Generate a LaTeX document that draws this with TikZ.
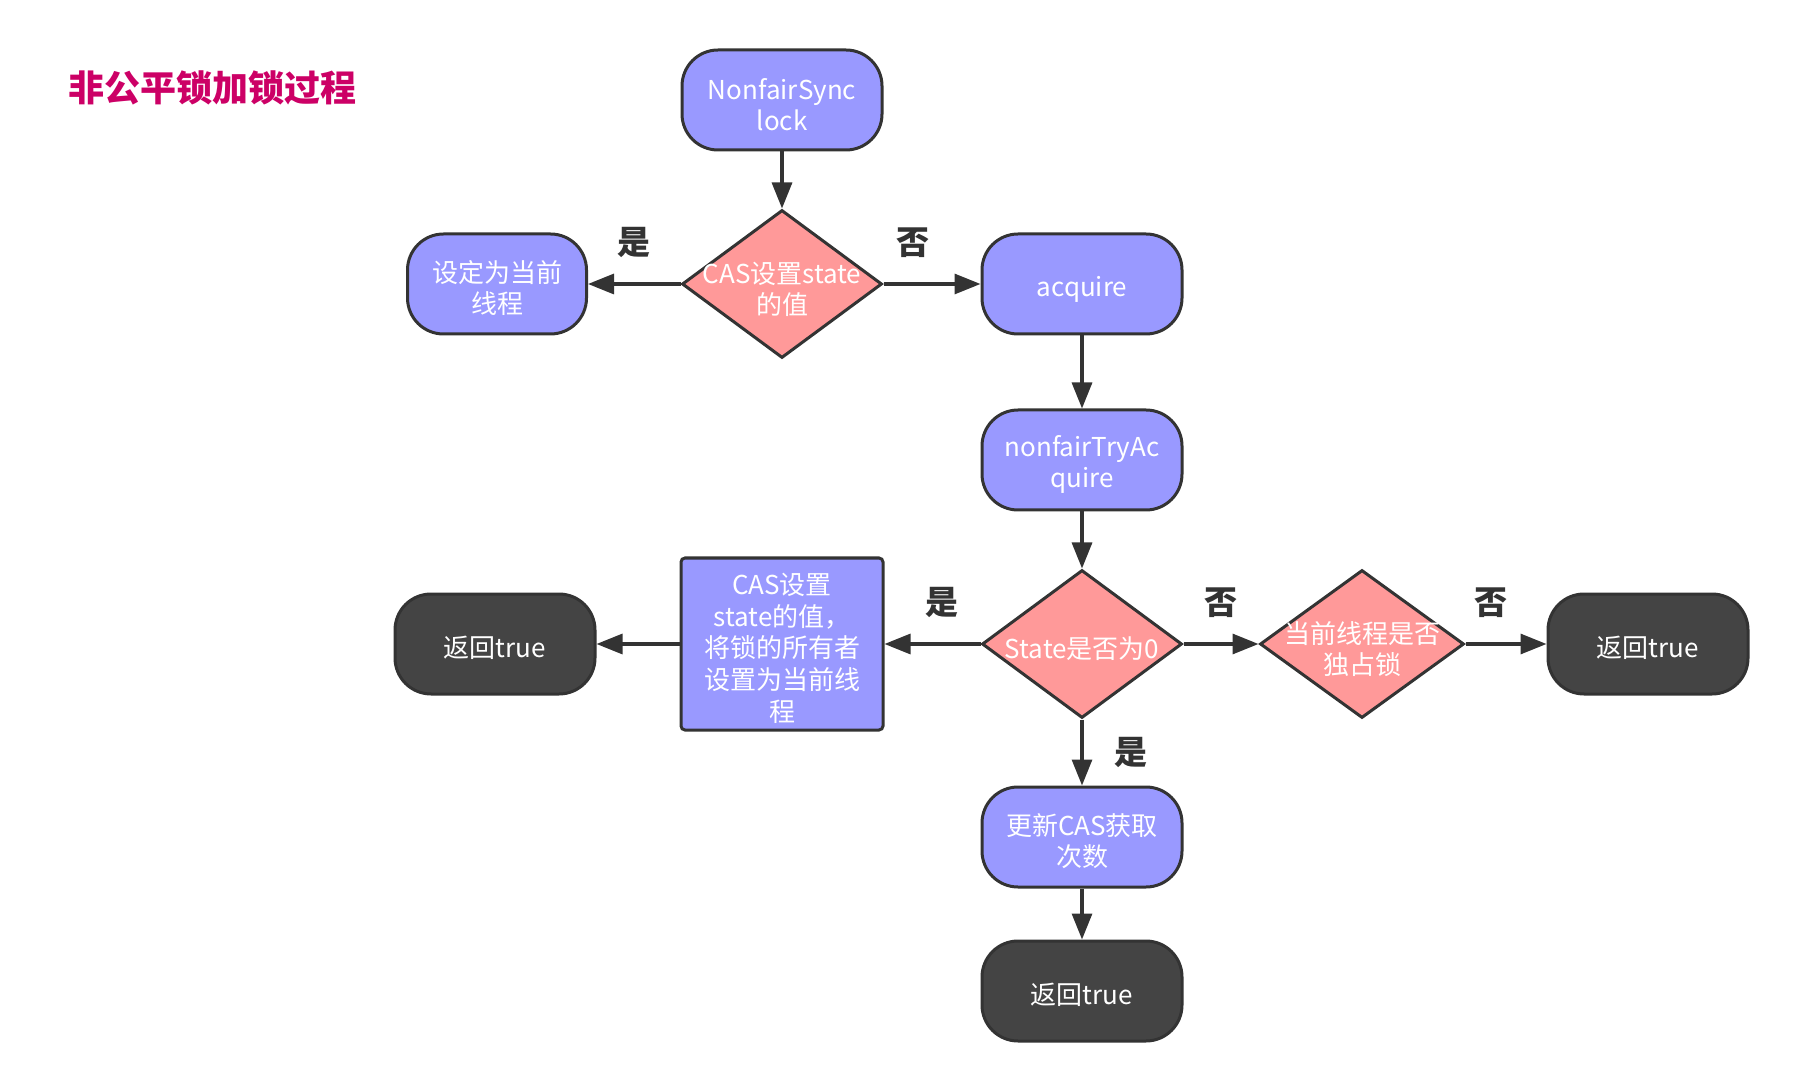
\documentclass[tikz,border=0pt]{standalone}
\usepackage{fontspec}
\setmainfont{Noto Sans CJK SC}
\usepackage{xcolor}
\usepackage{tikz}
\usetikzlibrary{arrows.meta,positioning,shapes.geometric}

\definecolor{procblue}{HTML}{9999FF}
\definecolor{condpink}{HTML}{FF9999}
\definecolor{enddark}{HTML}{444444}
\definecolor{edgegray}{HTML}{333333}
\definecolor{titlered}{HTML}{CC0066}

% taller first line, pushes node text a little down
\newcommand{\toprow}{\rule{0pt}{15pt}}
\newcommand{\toprowd}{\rule{0pt}{16pt}}

\begin{document}
\begin{tikzpicture}[
				x=0.5pt, y=-0.5pt,
				font=\fontsize{13pt}{15.8pt}\selectfont,
				>={Triangle[length=13pt,width=10pt]},
				process/.style={
					rectangle, rounded corners=18pt,
					draw=edgegray, line width=1.5pt, fill=procblue,
					text=white, align=center,
					minimum width=100pt, minimum height=50pt, inner sep=2pt
				},
				terminal/.style={process, fill=enddark},
				block/.style={
					rectangle, rounded corners=2pt,
					draw=edgegray, line width=1.5pt, fill=procblue,
					text=white, align=center,
					minimum width=101pt, minimum height=86pt, inner sep=2pt
				},
				decision/.style={
					diamond, draw=edgegray, line width=1.5pt, fill=condpink,
					minimum width=100pt, minimum height=74pt, inner sep=0pt
				},
				dtext/.style={text=white, align=center, inner sep=0pt},
				arr/.style={->, line width=1.6pt, edgegray},
				answer/.style={font=\fontsize{16.5pt}{18pt}\selectfont\bfseries, text=edgegray}
				]
				
				\useasboundingbox (0,0) rectangle (1798,1090);
				
				%% ─── TITLE ───────────────────────────────────────────────
				\node[font=\fontsize{18pt}{20pt}\selectfont\bfseries, text=titlered] (title) at (212,88) {非公平锁加锁过程};
				
				%% ─── LOCK ENTRY ──────────────────────────────────────────
				\node[process] (lock) at (782,100) {\toprow NonfairSync\\lock};
				\node[decision] (cas) at (782,284) {};
				\node[dtext] (castext) at (cas) {\toprowd CAS设置state\\的值};
				\node[process, minimum width=89.5pt] (setcur) at (497,284) {\toprow 设定为当前\\线程};
				\node[process] (acq) at (1082,284) {\toprow acquire};
				
				\draw[arr] (lock) -- (cas);
				\draw[arr] (cas) -- node[answer, above=9pt]{是} (setcur);
				\draw[arr] (cas) -- node[answer, above=9pt, pos=0.3]{否} (acq);
				
				%% ─── TRY ACQUIRE ─────────────────────────────────────────
				\node[process] (tryacq) at (1082,460) {\toprow nonfairTryAc\\quire};
				\node[decision] (state) at (1082,644) {};
				\node[dtext] (statetext) at (state) {\toprowd State是否为0};
				\draw[arr] (acq) -- (tryacq);
				\draw[arr] (tryacq) -- (state);
				
				\node[block] (casset) at (782,644) {\toprow CAS设置\\state的值，\\将锁的所有者\\设置为当前线\\程};
				\node[terminal] (retleft) at (495,644) {\toprow 返回true};
				\draw[arr] (state) -- node[answer, above=9pt, pos=0.4]{是} (casset);
				\draw[arr] (casset) -- (retleft);
				
				\node[decision, minimum width=102pt] (owner) at (1362,644) {};
				\node[dtext] (ownertext) at (owner) {\toprowd 当前线程是否\\独占锁};
				\node[terminal] (retright) at (1648,644) {\toprow 返回true};
				\draw[arr] (state) -- node[answer, above=9pt]{否} (owner);
				\draw[arr] (owner) -- node[answer, above=9pt, pos=0.31]{否} (retright);
				
				\node[process] (update) at (1082,837) {\toprow 更新CAS获取\\次数};
				\node[terminal] (retdown) at (1082,991) {\toprow 返回true};
				\draw[arr] (state) -- node[answer, right=12pt]{是} (update);
				\draw[arr] (update) -- (retdown);
				
\end{tikzpicture}
\end{document}
